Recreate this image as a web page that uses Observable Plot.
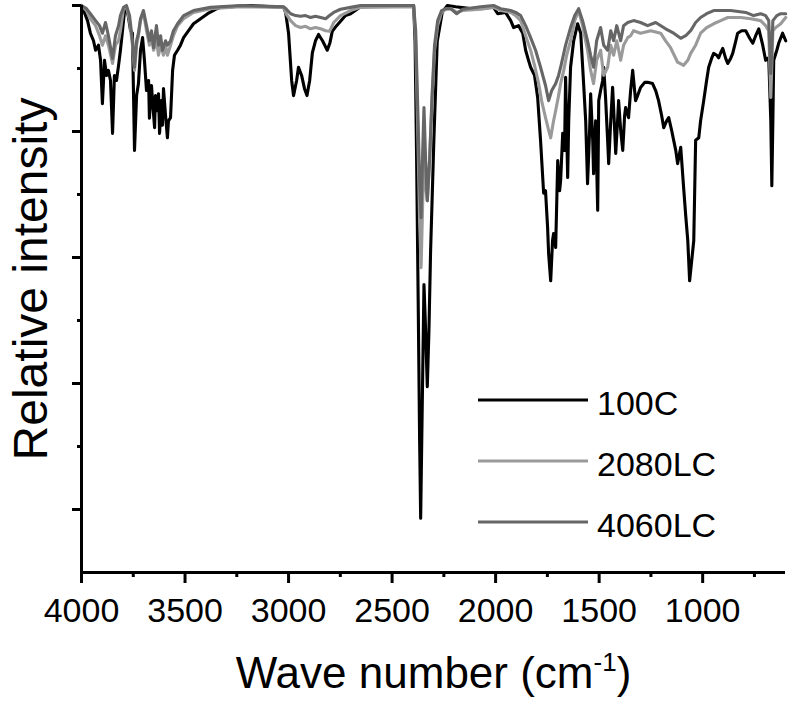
<!DOCTYPE html>
<html><head><meta charset="utf-8">
<script src="https://cdn.jsdelivr.net/npm/d3@7"></script>
<script src="https://cdn.jsdelivr.net/npm/@observablehq/plot@0.6"></script>
<style>
body{margin:0;background:#fff;}
#chart svg{display:block;}
</style></head><body><div id="chart"></div>
<script>
const seriesNames = ["100C", "2080LC", "4060LC"];
const seriesColors = ["#000000", "#9a9a9a", "#666666"];
const xTitle = "Wave number (cm-1)";
const yTitle = "Relative intensity";

const wn100C = [4000,3995,3971,3957,3942,3932,3918,3908,3899,3889,3879,3870,3860,3850,3841,3831,3821,3812,3802,3792,3783,3773,3763,3754,3744,3734,3725,3715,3705,3696,3686,3676,3672,3662,3657,3647,3643,3633,3628,3623,3614,3609,3604,3594,3585,3580,3570,3560,3551,3536,3522,3507,3483,3459,3425,3391,3353,3329,3184,3024,
3014,3000,2985,2976,2961,2952,2937,2923,2911,2898,2885,2870,2855,2836,2813,2800,2789,2768,2749,2725,2700,2652,2556,2396,2389,2382,2374,2367,2362,2354,2346,2338,2330,2322,2314,2298,2282,2258,2233,2193,2121,2024,
2010,1990,1952,1927,1913,1889,1869,1855,1841,1831,1812,1797,1783,1768,1759,1749,1744,1734,1725,1720,1710,1700,1691,1686,1676,1667,1662,1652,1647,1638,1623,1604,1589,1575,1565,1556,1546,1541,1531,1527,1517,1507,1502,1493,1483,1478,1469,1459,1454,1444,1435,1425,1420,1411,1406,1396,1386,1377,1372,1358,1348,1338,1324,1314,1300,1280,1266,1242,1227,1213,1198,1188,1174,1164,1150,1140,1130,1121,1106,1092,1082,1072,1063,1053,1043,1034,1019,1010,995,981,971,957,947,932,923,913,903,889,879,865,855,840,831,812,792,773,758,744,729,710,696,681,671,666,661,657,642,633,614,599];
const t100C = [99.8,99.7,97.6,95.6,94.4,92.9,93.7,91.3,84.4,91.3,88.9,89.7,88.1,79.7,88.9,88.1,90.5,92.9,96.0,99.2,99.5,98.1,96.0,95.6,77.0,85.7,87.6,92.9,94.9,91.3,86.5,88.1,82.1,87.3,84.9,80.6,85.7,83.3,86.0,79.7,84.9,81.0,86.8,82.5,79.0,81.7,82.2,89.7,92.1,92.9,93.7,94.9,96.0,97.1,97.9,98.7,99.4,99.7,100,99.7,
98.9,95.6,88.1,85.7,88.1,90.2,88.9,86.8,85.7,88.1,92.5,94.4,95.4,94.4,92.9,94.1,95.9,96.8,97.5,98.4,98.7,99.8,100,100,94.4,77.0,53.2,31.0,18.6,37.3,55.7,48.4,39.5,48.4,61.1,78.9,94.3,98.9,100,99.8,99.5,99.7,
99.7,98.7,98.9,97.6,96.5,96.8,95.6,92.9,91.3,90.2,88.9,85.4,78.6,70.2,70.6,64.8,60.6,56.3,62.7,63.8,61.6,75.4,70.6,72.2,79.7,77.0,88.6,72.7,81.7,90.2,94.4,97.1,95.6,87.6,81.7,71.7,80.2,86.0,78.6,73.3,81.7,67.5,84.9,86.5,88.1,90.2,85.4,78.6,74.9,81.7,87.0,80.2,76.5,81.7,84.9,80.2,77.0,82.5,83.8,82.2,86.5,89.7,84.9,85.7,87.0,87.8,87.8,87.6,86.5,84.9,82.5,80.6,81.7,82.2,80.2,78.6,77.0,74.9,77.5,71.1,66.7,62.7,56.3,59.5,62.7,78.6,79.0,81.7,84.9,88.1,90.2,91.6,92.4,92.1,91.7,92.5,93.2,91.6,90.8,91.6,92.4,94.4,95.6,96.0,96.0,94.8,94.0,95.2,96.3,93.7,91.3,91.7,81.7,71.4,81.7,91.3,92.9,94.0,95.6,94.4];

const wn2080LC = [4000,3976,3957,3932,3913,3899,3884,3870,3850,3836,3821,3812,3797,3783,3768,3754,3744,3734,3725,3715,3701,3686,3672,3662,3652,3638,3628,3618,3604,3594,3585,3570,3556,3536,3507,3459,3377,3232,3024,
3010,2990,2966,2942,2918,2894,2870,2845,2821,2802,2782,2749,2700,2652,2396,2386,2377,2367,2360,2352,2346,2338,2330,2319,2307,2295,2280,2261,2241,2217,2188,2159,2072,2010,
1976,1927,1903,1879,1855,1831,1812,1792,1778,1759,1744,1734,1720,1710,1696,1686,1671,1657,1638,1618,1599,1580,1556,1541,1527,1512,1493,1478,1459,1444,1430,1415,1396,1382,1362,1348,1334,1300,1251,1203,1179,1155,1121,1092,1072,1058,1034,1010,981,947,913,879,816,768,720,696,681,671,661,647,623,599];
const t2080LC = [100,99.2,97.9,96.8,95.2,93.7,95.2,93.7,90.8,93.7,94.4,96.0,99.5,99.8,97.6,93.7,89.7,93.7,95.2,97.6,98.9,96.0,93.7,95.2,92.9,94.4,92.1,93.7,92.1,93.7,92.1,93.7,95.2,96.8,97.9,98.9,99.5,99.8,99.7,
98.6,97.6,96.8,96.5,96.7,96.3,96.5,96.3,96.0,95.9,97.3,98.4,99.2,99.7,99.8,94.4,81.7,65.9,58.4,69.0,75.4,71.4,69.0,75.4,84.9,92.9,96.8,98.9,99.4,99.5,98.9,99.2,99.4,99.7,
99.2,98.9,98.4,97.6,95.2,92.9,90.5,87.6,84.9,82.2,80.2,79.0,81.7,83.3,85.7,87.6,89.7,92.1,94.4,97.6,99.2,96.8,92.9,89.7,87.6,91.3,92.9,88.9,90.2,93.7,92.1,94.4,91.3,93.7,94.9,95.2,96.0,95.6,96.0,95.6,94.4,93.3,91.0,90.5,91.3,92.4,93.7,95.6,96.5,97.1,97.6,98.1,98.1,97.9,97.6,96.8,96.0,85.4,96.0,96.5,97.1,98.1];

const wn4060LC = [4000,3976,3957,3932,3913,3899,3884,3870,3850,3836,3821,3812,3797,3783,3768,3754,3744,3734,3725,3715,3701,3686,3672,3662,3652,3638,3628,3618,3609,3594,3585,3570,3556,3536,3507,3459,3377,3232,3024,
3010,2990,2966,2942,2918,2894,2870,2845,2821,2802,2782,2749,2700,2652,2396,2386,2377,2367,2360,2352,2346,2338,2330,2319,2307,2295,2280,2261,2241,2217,2188,2159,2072,2010,
1976,1927,1903,1879,1855,1831,1807,1783,1759,1744,1729,1710,1696,1686,1662,1638,1618,1599,1580,1556,1541,1527,1512,1493,1478,1459,1444,1430,1415,1396,1382,1362,1334,1300,1266,1227,1179,1140,1106,1082,1058,1034,1010,981,947,865,792,754,720,696,681,671,661,642,623,599];
const t4060LC = [100,99.5,98.7,97.6,96.8,95.6,97.3,95.2,91.6,95.2,96.8,98.4,99.7,100,98.4,94.4,90.2,94.4,95.6,97.9,99.2,96.8,94.4,96.0,93.3,96.8,93.7,95.2,92.9,94.4,93.7,94.4,96.0,97.1,98.4,99.2,99.7,100,99.8,
99.4,98.7,98.4,98.3,98.4,98.1,98.3,98.1,97.9,98.4,98.9,99.4,99.7,100,100,96.0,84.9,72.2,66.3,77.0,83.8,75.4,69.0,75.4,85.7,93.7,97.6,99.2,99.5,99.5,98.7,99.4,99.8,100,
99.5,99.2,98.9,98.4,96.8,94.9,92.9,90.2,87.3,84.9,86.5,87.6,88.9,90.2,93.7,96.5,98.4,99.5,97.6,94.4,92.1,90.2,94.4,96.5,93.7,92.9,96.0,94.4,96.8,94.4,96.8,97.3,97.6,97.3,96.8,97.3,96.3,95.6,94.8,95.2,96.0,97.3,98.1,98.7,99.2,99.2,98.9,98.4,98.7,98.4,97.6,89.2,97.6,98.4,98.7,98.7];

const xMajorTicks = [4000, 3500, 3000, 2500, 2000, 1500, 1000];
const xMinorTicks = [3750, 3250, 2750, 2250, 1750, 1250, 750];
const yMajorTicks = [100, 80, 60, 40, 20];
const yMinorTicks = [90, 70, 50, 30];

const seriesData = [[wn100C, t100C], [wn2080LC, t2080LC], [wn4060LC, t4060LC]];
const rows = [];
seriesData.forEach(([w, t], i) => w.forEach((x, j) => rows.push({series: seriesNames[i], wn: x, t: t[j]})));

const font = "'Liberation Sans', Arial, Helvetica, sans-serif";

const plot = Plot.plot({
  width: 790, height: 702,
  marginLeft: 81, marginRight: 5, marginTop: 5, marginBottom: 130,
  style: {fontFamily: font, background: "white", color: "black", overflow: "visible"},
  x: {domain: [4000, 600], label: null},
  y: {domain: [10, 100], label: null},
  color: {domain: seriesNames, range: seriesColors},
  marks: [
    Plot.line(rows, {x: "wn", y: "t", z: "series", stroke: "series", strokeWidth: 3.1, strokeLinejoin: "round"}),
    Plot.ruleY([10], {strokeWidth: 3}),
    Plot.ruleX([4000], {strokeWidth: 3}),
    Plot.axisX({ticks: xMajorTicks, tickSize: 11, tickPadding: 14, strokeWidth: 3, fontSize: 34, tickFormat: d => String(d), label: null}),
    Plot.axisX({ticks: xMinorTicks, tickSize: 5, strokeWidth: 3, fill: "none", tickFormat: () => "", label: null}),
    Plot.axisY({ticks: yMajorTicks, tickSize: 9, strokeWidth: 3, fill: "none", tickFormat: () => "", label: null}),
    Plot.axisY({ticks: yMinorTicks, tickSize: 4, strokeWidth: 3, fill: "none", tickFormat: () => "", label: null}),
    Plot.text([xTitle], {frameAnchor: "bottom", lineAnchor: "bottom", dy: 115, fontSize: 44}),
    Plot.text([yTitle], {frameAnchor: "left", textAnchor: "middle", lineAnchor: "bottom", rotate: -90, dx: -35, dy: -10, fontSize: 48})
  ]
});
document.getElementById("chart").appendChild(plot);

const svg = d3.select(plot);
svg.selectAll("text").filter(function() { return this.textContent === xTitle; }).each(function() {
  const t = d3.select(this);
  t.text(null);
  t.append("tspan").text("Wave number (cm");
  t.append("tspan").attr("font-size", 26).attr("dy", -17).text("-1");
  t.append("tspan").attr("dy", 17).text(")");
});

const lg = svg.append("g").attr("font-family", font).attr("font-size", 34).attr("text-anchor", "start");
seriesNames.forEach((name, i) => {
  const y = 400 + i * 61;
  lg.append("line").attr("x1", 478).attr("x2", 588).attr("y1", y).attr("y2", y)
    .attr("stroke", seriesColors[i]).attr("stroke-width", 3);
  lg.append("text").attr("x", 597).attr("y", y + 15).attr("fill", "black").text(name);
});
</script>
</body></html>
